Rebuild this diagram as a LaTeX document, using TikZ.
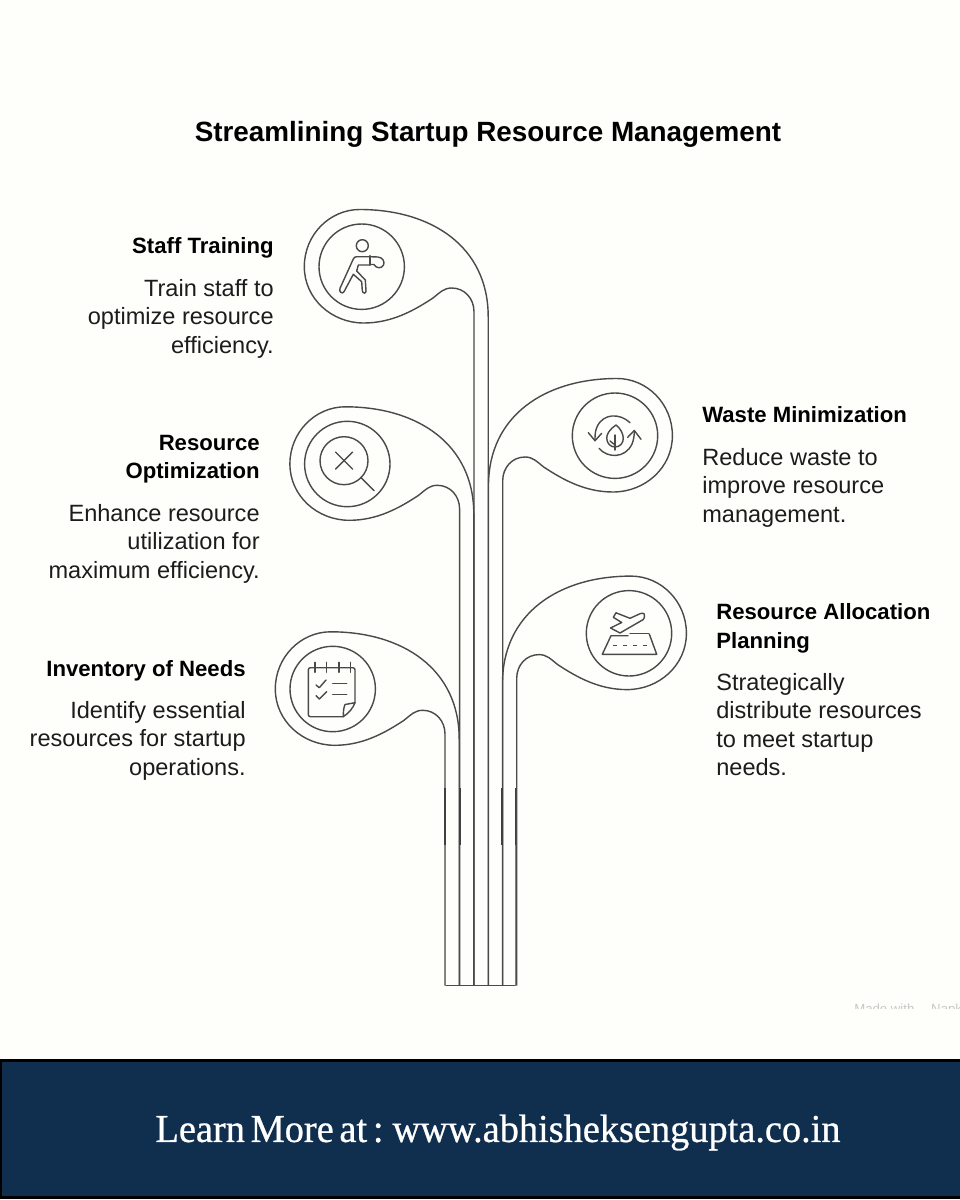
\documentclass[tikz,border=0pt]{standalone}
\usepackage{fontspec}
\usepackage{xcolor}
\setmainfont{Liberation Sans}
\newfontfamily\footfont[FakeBold=0.7,FakeStretch=0.97,WordSpace=0.6]{Liberation Serif}
\definecolor{paper}{HTML}{FEFEFB}
\definecolor{wiregrey}{HTML}{4A4A4A}
\definecolor{footblue}{HTML}{102E4E}
\definecolor{inktext}{HTML}{1C1C1C}
\usetikzlibrary{positioning}
\tikzset{
  wire/.style={draw=wiregrey,line width=0.8pt,line join=round},
  wiredark/.style={draw=black!75,line width=0.85pt},
  wirepale/.style={draw=black!50,line width=0.8pt},
  icon/.style={draw=wiregrey,line width=0.8pt,line join=round,line cap=round},
  headtext/.style={inner sep=0pt,text=black,font=\fontsize{12.6}{16.2}\selectfont\bfseries},
  bodytext/.style={inner sep=0pt,text=inktext,font=\fontsize{13.4}{16.2}\selectfont},
  pics/leaf/.style={code={
    \draw [wire] (126.5,-#1) -- (126.5,-50) .. controls (126.5,20) and (70,57.2) .. (-2,57.2)
      .. controls (-32,57.2) and (-57.4,32) .. (-57.4,0)
      .. controls (-57.4,-32) and (-30,-56.3) .. (2,-56.3)
      .. controls (30,-56.3) and (52,-44) .. (71.3,-31.3)
      .. controls (78,-26) and (82,-21.3) .. (90,-21.3)
      .. controls (103,-21.3) and (112.3,-32) .. (112.3,-45) -- (112.3,-#1);
    \draw [wire] (0,0) circle (42.7);
  }}
}
\begin{document}
\begin{tikzpicture}[x=0.02cm,y=0.02cm]
\fill [paper] (0,0) rectangle (960,-1200);
\useasboundingbox (0,0) rectangle (960,-1200);
% title
\node (title) [inner sep=0pt,text=black,font=\fontsize{15.85}{19}\selectfont\bfseries] at (488,-134.5) {Streamlining Startup Resource Management};
% leaves
\pic (staffleaf) at (361.7,-266.7) {leaf=719};
\pic (optimleaf) at (347.3,-464) {leaf=521.7};
\pic (needsleaf) at (332.7,-689) {leaf=296.7};
\pic (wasteleaf) [xscale=-1] at (615,-435.7) {leaf=550};
\pic (allocleaf) [xscale=-1] at (629,-633.3) {leaf=352.4};
\draw [wire] (445.2,-985.7) -- (515.7,-985.7);
\draw [wiredark] (445.2,-788) -- (445.2,-845);
\draw [wiredark] (460,-788) -- (460,-845);
\draw [wiredark] (501.8,-788) -- (501.8,-845);
\draw [wiredark] (515.7,-788) -- (515.7,-845);
\draw [wirepale] (445.2,-845) -- (445.2,-985.7);
\draw [wirepale] (515.7,-845) -- (515.7,-985.7);
% person
\draw [icon] (362.3,-245.7) circle (6);
\draw [icon] (370,-256.7) -- (356.7,-256.7) .. controls (355,-256.7) and (354,-257.5) .. (353.3,-259) -- (340,-288.3)
  .. controls (338.5,-292) and (342.5,-294.5) .. (344,-291.7) -- (353.3,-274.3) -- (361.7,-281.7) -- (362.3,-290.5)
  .. controls (362.5,-294) and (366.5,-294) .. (366,-290.5) -- (365.3,-280) -- (356.7,-271) -- (358.3,-265) -- (370,-265);
\draw [icon] (370,-255.7) -- (370,-265);
\draw [icon] (370,-256.7) -- (378,-257) .. controls (383,-257.5) and (385,-262) .. (383.5,-265)
  .. controls (381.5,-269) and (376,-268.5) .. (374,-264.5) -- (370,-264.5);
% magnifier
\draw [icon] (344,-460.7) circle (24);
\draw [icon] (360.7,-477.3) -- (374,-490.7);
\draw [icon] (335.5,-452) -- (352.5,-469);
\draw [icon] (335.5,-469) -- (352.5,-452);
% checklist
\draw [icon,rounded corners=1.2] (355,-702.7) -- (355,-667.7) -- (308.3,-667.7) -- (308.3,-716.7) -- (343.3,-716.7);
\draw [icon] (343.3,-716.7) .. controls (349,-713) and (353,-708) .. (355,-702.7) -- (345,-704.5) .. controls (343.5,-708) and (343.3,-712) .. (343.3,-716.7);
\draw [icon] (315,-662.3) -- (315,-672.3);
\draw [icon] (326.7,-662.3) -- (326.7,-672.3);
\draw [icon] (339,-662.3) -- (339,-672.3);
\draw [icon] (350.7,-662.3) -- (350.7,-672.3);
\draw [icon] (316,-685) -- (319.3,-687.7) -- (326,-680);
\draw [icon] (316,-695.7) -- (319.3,-699) -- (326.7,-691.7);
\draw [icon] (332.7,-683.3) -- (346.7,-683.3);
\draw [icon] (332.7,-694.3) -- (346.7,-694.3);
% recycling leaf
\draw [icon] (630,-422.7) .. controls (620,-413) and (603,-413) .. (597,-427) .. controls (595,-431) and (595,-436) .. (595,-440.7);
\draw [icon] (588.3,-432.7) -- (595,-440.7) -- (601.7,-433.3);
\draw [icon] (599,-448.3) .. controls (607,-458) and (625,-459) .. (632,-444) .. controls (634,-439) and (634.3,-435) .. (634.3,-430.5);
\draw [icon] (627.7,-437.3) -- (634.3,-430.5) -- (641,-439.3);
\draw [icon] (616,-425) .. controls (610,-429) and (606.5,-434) .. (606.7,-438.3) .. controls (607,-444) and (611,-447) .. (615,-447)
  .. controls (620,-447) and (623.5,-443) .. (623.3,-438) .. controls (623,-433) and (620,-428) .. (616,-425);
\draw [icon] (615,-435) -- (615,-450);
\draw [icon] (610,-441) -- (615,-445);
% plane and runway
\draw [icon] (610.5,-628) -- (621.7,-622.5) -- (613.3,-617.3) -- (616,-612.8) -- (630,-618.3) -- (640.5,-613.5)
  .. controls (644,-612.5) and (645.5,-614.5) .. (644.5,-617) -- (643.3,-619.5) -- (620,-633) -- cycle;
\draw [icon] (628,-635.7) -- (611,-635.7) -- (602.3,-654.3) -- (656.7,-654.3) -- (649.3,-634);
\draw [icon] (630,-633.3) -- (648.5,-633.3);
\draw [icon] (613.5,-645.7) -- (616.5,-645.7);
\draw [icon] (623.5,-645.7) -- (626.5,-645.7);
\draw [icon] (633.5,-645.7) -- (636.5,-645.7);
\draw [icon] (643.5,-645.7) -- (646.5,-645.7);
% texts
\node (staffhead) [headtext,anchor=north east] at (274,-237.5) {Staff Training};
\node (staffbody) [bodytext,anchor=north east,align=right] at (274,-279) {Train staff to\\optimize resource\\efficiency.};
\node (optimhead) [headtext,anchor=north east,align=right] at (260,-434.5) {Resource\\Optimization};
\node (optimbody) [bodytext,anchor=north east,align=right] at (260,-504) {Enhance resource\\utilization for\\maximum efficiency.};
\node (needshead) [headtext,anchor=north east] at (246,-660.5) {Inventory of Needs};
\node (needsbody) [bodytext,anchor=north east,align=right] at (246,-701) {Identify essential\\resources for startup\\operations.};
\node (wastehead) [headtext,anchor=north west] at (702,-406.5) {Waste Minimization};
\node (wastebody) [bodytext,anchor=north west,align=left] at (702,-448) {Reduce waste to\\improve resource\\management.};
\node (allochead) [headtext,anchor=north west,align=left] at (716,-603.5) {Resource Allocation\\Planning};
\node (allocbody) [bodytext,anchor=north west,align=left] at (716,-673) {Strategically\\distribute resources\\to meet startup\\needs.};
% cut off credit
\begin{scope}
\clip (850,-1003) rectangle (960,-1008);
\node (credit) [inner sep=0pt,anchor=base west,text=black!22,font=\fontsize{7.5}{9}\selectfont] at (854,-1013) {Made with \quad Napkin};
\end{scope}
% footer band
\node (footband) [draw=black,line width=1.4pt,fill=footblue,inner sep=0pt,minimum width=19.2cm,minimum height=2.74cm,anchor=south west] at (0,-1198.5) {};
\node (footline) [inner sep=0pt,text=white,font=\footfont\fontsize{22.5}{26}\selectfont] at (498,-1132.5) {Learn More at : www.abhisheksengupta.co.in};
\end{tikzpicture}
\end{document}
